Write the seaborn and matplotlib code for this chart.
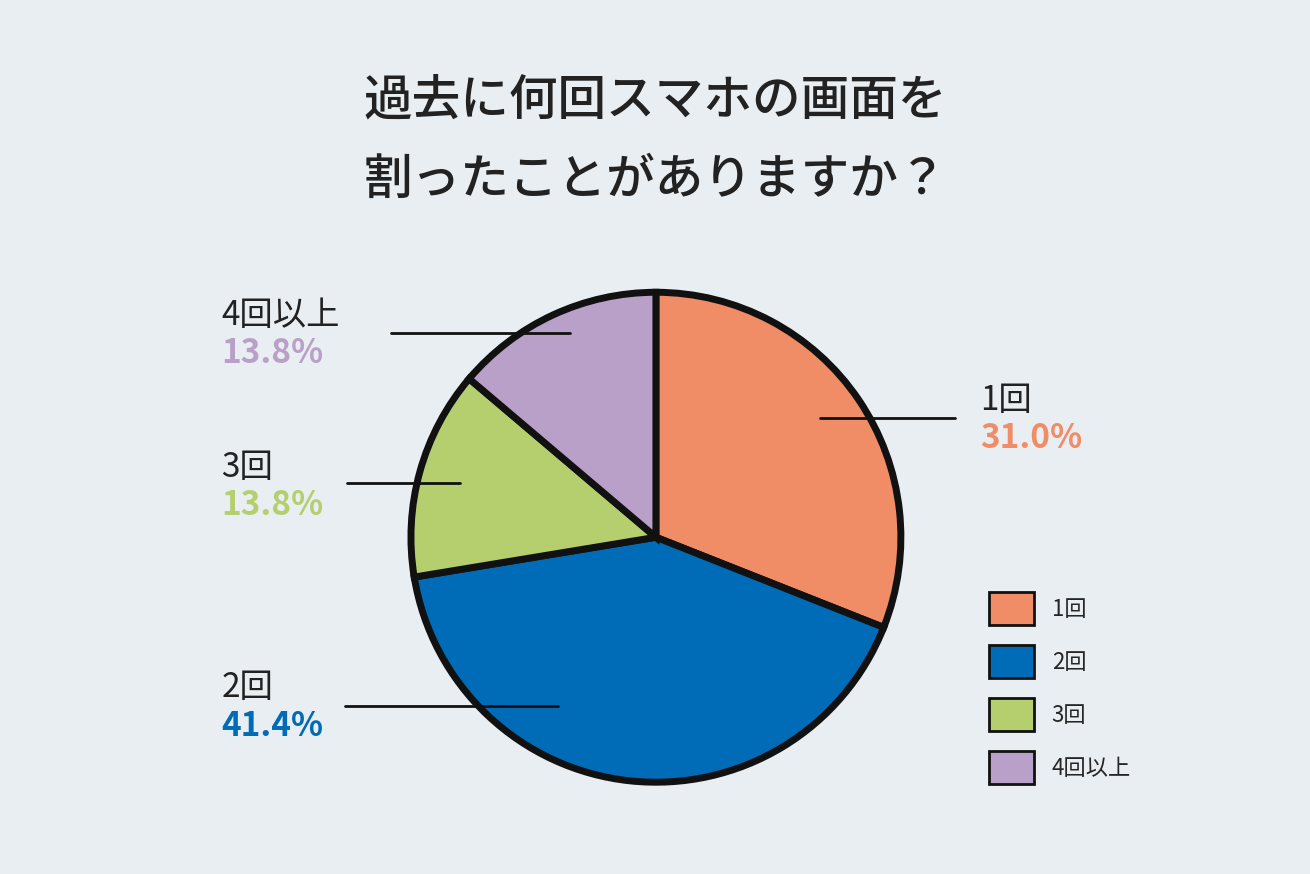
import numpy as np
import matplotlib
matplotlib.use("Agg")
import matplotlib.pyplot as plt
import seaborn as sns
from matplotlib.patches import Patch

sns.set_theme(style="white")
plt.rcParams['font.family'] = ['Noto Sans CJK JP', 'DejaVu Sans']

# data
categories = ['1回', '2回', '3回', '4回以上']
shares = [31.0, 41.4, 13.8, 13.8]
colors = ['#f08c66', '#006bb6', '#b5cf6f', '#b9a0c8']
title = '過去に何回スマホの画面を\n割ったことがありますか？'

bg = '#e9eef2'
fig = plt.figure(figsize=(13.1, 8.74), dpi=100, facecolor=bg)
ax = fig.add_axes([0.3137, 0.105, 0.374, 0.5606])
ax.set_facecolor(bg)

wedges, _ = ax.pie(shares, colors=colors, startangle=90, counterclock=False,
                   wedgeprops=dict(edgecolor='#111111', linewidth=5))
ax.set_xlim(-1, 1)
ax.set_ylim(-1, 1)
ax.set_aspect('equal')
ax.axis('off')

fig.text(0.5, 0.84, title, ha='center', va='center', fontsize=35,
         color='#222222', linespacing=1.75, fontweight='medium')

# leader line (y, x0, x1 in pie units) and label position in figure coords
layout = {
    '1回': ((0.486, 0.67, 1.22), (0.748, 0.522)),
    '2回': ((-0.69, -0.40, -1.27), (0.169, 0.193)),
    '3回': ((0.22, -0.80, -1.26), (0.169, 0.445)),
    '4回以上': ((0.833, -0.35, -1.08), (0.169, 0.619)),
}
for cat, val, col in zip(categories, shares, colors):
    (ly, x0, x1), (tx, ty) = layout[cat]
    ax.plot([x0, x1], [ly, ly], color='#111111', lw=2, clip_on=False)
    fig.text(tx, ty, cat, ha='left', va='bottom', fontsize=24, color='#222222')
    fig.text(tx, ty - 0.005, f'{val:.1f}%', ha='left', va='top', fontsize=24,
             color=col, fontweight='bold')

handles = [Patch(facecolor=c, edgecolor='#111111', linewidth=2) for c in colors]
fig.legend(handles, categories, loc='upper left', bbox_to_anchor=(0.74, 0.345),
           frameon=False, fontsize=16, handlelength=2.0, handleheight=1.9,
           labelspacing=0.9, handletextpad=0.8)

fig.savefig('out.png', dpi=100, facecolor=bg)
